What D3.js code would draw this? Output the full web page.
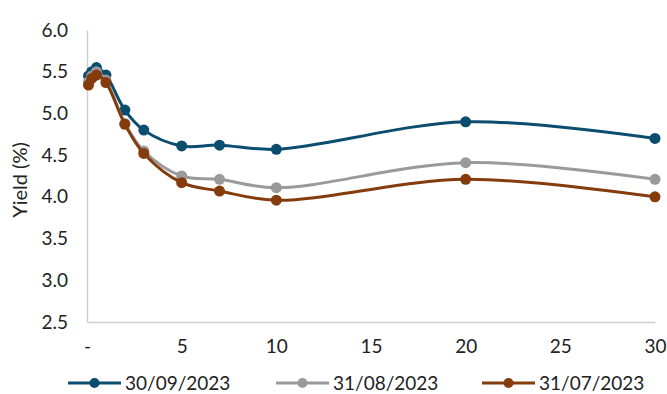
<!DOCTYPE html>
<html>
<head>
<meta charset="utf-8">
<script src="https://d3js.org/d3.v7.min.js"></script>
<style>
    body { margin: 0; background: #fff; }
    svg { display: block; }
    text { font-family: Lato, "Open Sans", sans-serif; }
    .tick text { font-size: 19px; fill: #222; }
</style>
</head>
<body>
<svg id="chart" width="667" height="394"></svg>
<script>
    // maturities in years
    var maturities = [0.08, 0.25, 0.5, 1, 2, 3, 5, 7, 10, 20, 30];
    var seriesNames = ['30/09/2023', '31/08/2023', '31/07/2023'];
    var sep23 = [5.45, 5.50, 5.55, 5.46, 5.04, 4.80, 4.61, 4.62, 4.57, 4.90, 4.70];
    var aug23 = [5.38, 5.45, 5.50, 5.40, 4.88, 4.55, 4.25, 4.21, 4.11, 4.41, 4.21];
    var jul23 = [5.34, 5.42, 5.46, 5.37, 4.87, 4.52, 4.17, 4.07, 3.96, 4.21, 4.00];
    var xTicks = [0, 5, 10, 15, 20, 25, 30];
    var yTicks = [2.5, 3.0, 3.5, 4.0, 4.5, 5.0, 5.5, 6.0];
    var colors = ['#0b4d6f', '#9a9a9a', '#843c0c'];

    var series = [sep23, aug23, jul23];

    var svg = d3.select('#chart');
    var margin = { top: 30, left: 87, right: 12, bottom: 72 };
    var width = +svg.attr('width') - margin.left - margin.right;
    var height = +svg.attr('height') - margin.top - margin.bottom;

    var g = svg.append('g')
        .attr('transform', 'translate(' + margin.left + ',' + margin.top + ')');

    var x = d3.scaleLinear().domain([0, 30]).range([0, width]);
    var y = d3.scaleLinear().domain([2.5, 6.0]).range([height, 0]);

    // axes
    var xAxis = g.append('g')
        .attr('transform', 'translate(0,' + height + ')')
        .call(d3.axisBottom(x).tickValues(xTicks).tickSize(0).tickPadding(18)
            .tickFormat(function(d) { return d === 0 ? '-' : d; }));
    xAxis.select('.domain').attr('stroke', '#d0d0d0').attr('stroke-width', 1.5);

    var yAxis = g.append('g')
        .call(d3.axisLeft(y).tickValues(yTicks).tickSize(0).tickPadding(19)
            .tickFormat(d3.format('.1f')));
    yAxis.select('.domain').attr('stroke', '#d0d0d0').attr('stroke-width', 1.5);

    svg.append('text')
        .attr('transform', 'translate(27,' + (margin.top + height / 2 + 4) + ') rotate(-90)')
        .attr('text-anchor', 'middle')
        .attr('font-size', 20)
        .attr('fill', '#222')
        .text('Yield (%)');

    var line = d3.line()
        .x(function(d, i) { return x(maturities[i]); })
        .y(function(d) { return y(d); })
        .curve(d3.curveCatmullRom.alpha(0.5));

    series.forEach(function(s, k) {
        g.append('path')
            .datum(s)
            .attr('d', line)
            .attr('fill', 'none')
            .attr('stroke', colors[k])
            .attr('stroke-width', 3);

        g.selectAll('.pt' + k)
            .data(s)
            .enter()
            .append('circle')
            .attr('cx', function(d, i) { return x(maturities[i]); })
            .attr('cy', function(d) { return y(d); })
            .attr('r', 5.5)
            .attr('fill', colors[k]);
    });

    // legend
    var legendX = [68, 276, 482];
    var legend = svg.append('g').attr('transform', 'translate(0,383)');
    seriesNames.forEach(function(name, k) {
        var lg = legend.append('g').attr('transform', 'translate(' + legendX[k] + ',0)');
        lg.append('line')
            .attr('x1', 0).attr('x2', 53)
            .attr('stroke', colors[k]).attr('stroke-width', 3);
        lg.append('circle')
            .attr('cx', 26.5).attr('r', 5)
            .attr('fill', colors[k]);
        lg.append('text')
            .attr('x', 57).attr('dy', '0.36em')
            .attr('font-size', 19).attr('fill', '#222')
            .text(name);
    });
</script>
</body>
</html>
